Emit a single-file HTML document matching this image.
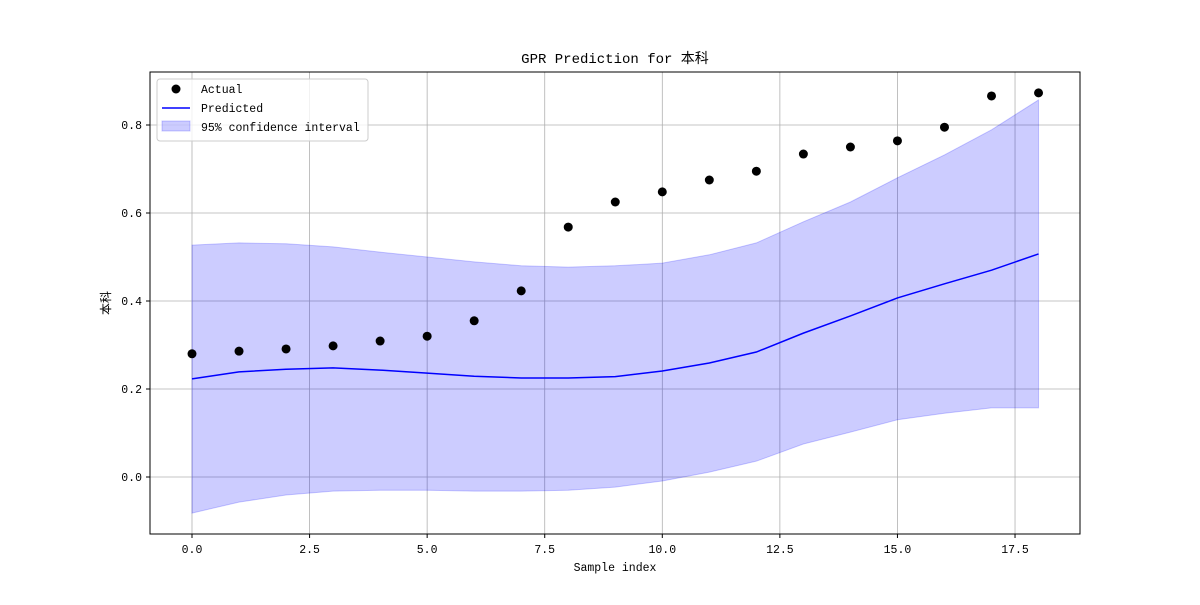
<!DOCTYPE html>
<html><head><meta charset="utf-8"><style>
body{margin:0;background:#fff}
svg text{font-family:"Liberation Mono","WenQuanYi Zen Hei","Noto Sans CJK SC",monospace;fill:#000}
</style></head><body>
<svg id="chart" width="1200" height="600" xmlns="http://www.w3.org/2000/svg">
<rect width="1200" height="600" fill="#fff"/>
<g id="grid"></g>
<g id="band"></g>
<g id="line"></g>
<g id="pts"></g>
<rect x="150" y="72" width="930" height="462" fill="none" stroke="#000" stroke-width="1"/>
<g id="ticks"></g>
<text x="615" y="63" text-anchor="middle" font-size="14">GPR Prediction for 本科</text>
<text x="615" y="571" text-anchor="middle" font-size="11.5">Sample index</text>
<text x="110" y="303" text-anchor="middle" font-size="12" transform="rotate(-90 110 303)">本科</text>
<g>
<rect x="157" y="79" width="211" height="62" rx="3" fill="#fff" fill-opacity="0.8" stroke="#ccc"/>
<circle cx="176" cy="89" r="4.5" fill="#000"/>
<text x="201" y="93" font-size="11.5">Actual</text>
<line x1="162" y1="108" x2="190" y2="108" stroke="#00f" stroke-width="1.5"/>
<text x="201" y="112" font-size="11.5">Predicted</text>
<rect x="162" y="121" width="28" height="10" fill="#00f" fill-opacity="0.2" stroke="#00f" stroke-opacity="0.2"/>
<text x="201" y="131" font-size="11.5">95% confidence interval</text>
</g>
</svg>
<script>
const actual=[0.280,0.286,0.291,0.298,0.309,0.320,0.355,0.423,0.568,0.625,0.648,0.675,0.695,0.734,0.750,0.764,0.795,0.866,0.873];
const predicted=[0.223,0.239,0.245,0.248,0.243,0.236,0.229,0.225,0.225,0.228,0.241,0.259,0.284,0.327,0.366,0.407,0.439,0.470,0.507];
const upper=[0.527,0.532,0.530,0.523,0.511,0.500,0.489,0.480,0.477,0.480,0.486,0.505,0.532,0.580,0.625,0.680,0.732,0.789,0.857];
const lower=[-0.082,-0.057,-0.041,-0.032,-0.030,-0.030,-0.032,-0.032,-0.030,-0.023,-0.009,0.011,0.036,0.075,0.102,0.130,0.145,0.157,0.157];
const xTicks=[0,2.5,5,7.5,10,12.5,15,17.5];
const xTickLabels=["0.0","2.5","5.0","7.5","10.0","12.5","15.0","17.5"];
const yTicks=[0,0.2,0.4,0.6,0.8];
const yTickLabels=["0.0","0.2","0.4","0.6","0.8"];
const NS="http://www.w3.org/2000/svg";
const X=v=>192+v*47.03, Y=v=>477-v*440;
function mk(p,t,a){const e=document.createElementNS(NS,t);for(const k in a)e.setAttribute(k,a[k]);document.getElementById(p).appendChild(e);return e;}
xTicks.forEach((t,i)=>{
 const g=mk('grid','line',{x1:X(t),x2:X(t),y1:72,y2:534,stroke:'#b0b0b0','stroke-width':0.8});
 
 
 const k=mk('ticks','line',{x1:X(t),x2:X(t),y1:534,y2:538,stroke:'#000'});
 
 
 const l=mk('ticks','text',{x:X(t),y:553,'text-anchor':'middle','font-size':11.5});
 l.textContent=xTickLabels[i];
 
 
});
yTicks.forEach((t,i)=>{
 const g=mk('grid','line',{x1:150,x2:1080,y1:Y(t),y2:Y(t),stroke:'#b0b0b0','stroke-width':0.8});
 
 
 const k=mk('ticks','line',{x1:146,x2:150,y1:Y(t),y2:Y(t),stroke:'#000'});
 
 
 const l=mk('ticks','text',{x:142,y:Y(t)+4,'text-anchor':'end','font-size':11.5});
 l.textContent=yTickLabels[i];
 
 
});
let d=upper.map((v,i)=>(i?'L':'M')+X(i)+','+Y(v)).join('');
for(let i=lower.length-1;i>=0;i--)d+='L'+X(i)+','+Y(lower[i]);
const b=mk('band','path',{d:d+'Z',fill:'#00f','fill-opacity':0.2,stroke:'#00f','stroke-opacity':0.2});


const pl=mk('line','polyline',{points:predicted.map((v,i)=>X(i)+','+Y(v)).join(' '),fill:'none',stroke:'#00f','stroke-width':1.5});


actual.forEach((v,i)=>{
 const c=mk('pts','circle',{cx:X(i),cy:Y(v),r:4.5,fill:'#000'});
 
 
});
</script>
</body></html>
